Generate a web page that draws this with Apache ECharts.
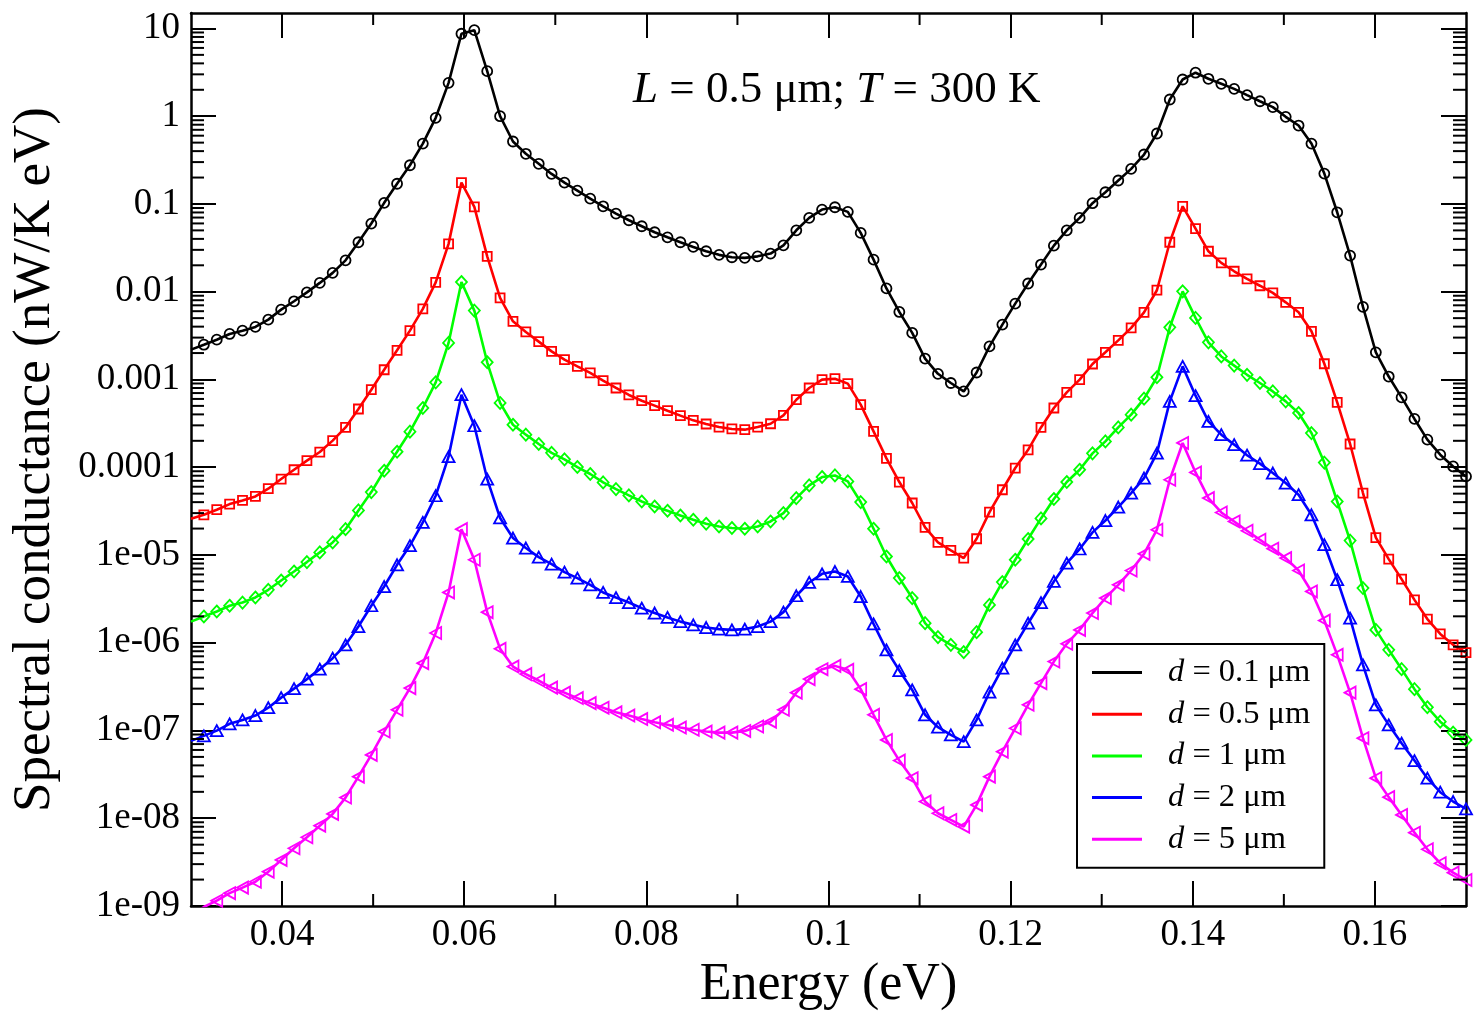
<!DOCTYPE html>
<html>
<head>
<meta charset="utf-8">
<script src="https://cdn.jsdelivr.net/npm/echarts@6/dist/echarts.min.js"></script>
<style>
html,body{margin:0;padding:0;background:#fff;}
#main{width:1484px;height:1017px;}
</style>
</head>
<body>
<div id="main"></div>
<script>
// ---------------- data ----------------
const energy = [0.03, 0.031414, 0.032828, 0.034242, 0.035657, 0.037071, 0.038485, 0.039899, 0.041313, 0.042727,
0.044141, 0.045556, 0.04697, 0.048384, 0.049798, 0.051212, 0.052626, 0.05404, 0.055455, 0.056869,
0.058283, 0.059697, 0.061111, 0.062525, 0.063939, 0.065354, 0.066768, 0.068182, 0.069596, 0.07101,
0.072424, 0.073838, 0.075253, 0.076667, 0.078081, 0.079495, 0.080909, 0.082323, 0.083737, 0.085152,
0.086566, 0.08798, 0.089394, 0.090808, 0.092222, 0.093636, 0.095051, 0.096465, 0.097879, 0.099293,
0.100707, 0.102121, 0.103535, 0.104949, 0.106364, 0.107778, 0.109192, 0.110606, 0.11202, 0.113434,
0.114848, 0.116263, 0.117677, 0.119091, 0.120505, 0.121919, 0.123333, 0.124747, 0.126162, 0.127576,
0.12899, 0.130404, 0.131818, 0.133232, 0.134646, 0.136061, 0.137475, 0.138889, 0.140303, 0.141717,
0.143131, 0.144545, 0.14596, 0.147374, 0.148788, 0.150202, 0.151616, 0.15303, 0.154444, 0.155859,
0.157273, 0.158687, 0.160101, 0.161515, 0.162929, 0.164343, 0.165758, 0.167172, 0.168586, 0.17];

const g_d01 = [2.19e-3, 2.49e-3, 2.84e-3, 3.30e-3, 3.60e-3, 3.97e-3, 4.81e-3, 6.25e-3, 7.78e-3, 9.84e-3,
1.26e-2, 1.64e-2, 2.28e-2, 3.66e-2, 5.98e-2, 0.103, 0.170, 0.276, 0.488, 0.959,
2.40, 8.70, 9.56, 3.26, 1.00, 0.515, 0.373, 0.287, 0.220, 0.175,
0.142, 0.115, 0.0941, 0.0777, 0.0652, 0.0557, 0.0476, 0.0417, 0.0366, 0.0324,
0.0289, 0.0263, 0.0247, 0.0243, 0.0253, 0.0272, 0.0338, 0.0501, 0.0694, 0.0863,
0.0917, 0.0813, 0.0468, 0.0232, 0.0109, 5.88e-3, 3.39e-3, 1.73e-3, 1.16e-3, 9.12e-4,
7.31e-4, 1.20e-3, 2.38e-3, 4.22e-3, 7.31e-3, 0.0124, 0.0204, 0.0335, 0.0501, 0.0694,
0.102, 0.136, 0.185, 0.251, 0.366, 0.635, 1.55, 2.62, 3.13, 2.67,
2.34, 2.05, 1.74, 1.48, 1.27, 0.984, 0.783, 0.488, 0.222, 0.0804,
0.0258, 6.71e-3, 2.04e-3, 1.08e-3, 6.25e-4, 3.55e-4, 2.06e-4, 1.39e-4, 1.02e-4, 7.85e-5];

const g_d05 = [2.59e-5, 2.87e-5, 3.28e-5, 3.80e-5, 4.18e-5, 4.65e-5, 5.69e-5, 7.33e-5, 9.36e-5, 1.19e-4,
1.49e-4, 2.01e-4, 2.84e-4, 4.61e-4, 7.65e-4, 1.29e-3, 2.15e-3, 3.60e-3, 6.37e-3, 0.0128,
0.0351, 0.175, 0.0927, 0.0253, 8.50e-3, 4.60e-3, 3.48e-3, 2.70e-3, 2.09e-3, 1.68e-3,
1.41e-3, 1.19e-3, 9.69e-4, 8.00e-4, 6.66e-4, 5.73e-4, 5.03e-4, 4.41e-4, 3.87e-4, 3.42e-4,
3.11e-4, 2.87e-4, 2.73e-4, 2.68e-4, 2.87e-4, 3.13e-4, 3.90e-4, 5.88e-4, 8.00e-4, 9.95e-4,
1.02e-3, 8.96e-4, 5.16e-4, 2.56e-4, 1.26e-4, 6.78e-5, 3.91e-5, 2.06e-5, 1.39e-5, 1.13e-5,
9.22e-6, 1.53e-5, 3.08e-5, 5.54e-5, 9.79e-5, 1.58e-4, 2.84e-4, 4.73e-4, 7.13e-4, 9.95e-4,
1.50e-3, 2.04e-3, 2.79e-3, 3.87e-3, 5.82e-3, 0.0104, 0.0366, 0.0941, 0.0524, 0.0289,
0.0213, 0.0171, 0.0140, 0.0117, 9.69e-3, 7.57e-3, 5.82e-3, 3.54e-3, 1.51e-3, 5.48e-4,
1.84e-4, 5.08e-5, 1.58e-5, 8.98e-6, 5.31e-6, 3.08e-6, 1.86e-6, 1.26e-6, 9.46e-7, 7.73e-7];

const g_d1 = [1.74e-6, 1.99e-6, 2.27e-6, 2.64e-6, 2.87e-6, 3.28e-6, 4.01e-6, 5.12e-6, 6.48e-6, 8.30e-6,
1.07e-5, 1.39e-5, 1.97e-5, 3.22e-5, 5.21e-5, 9.12e-5, 1.50e-4, 2.54e-4, 4.73e-4, 9.27e-4,
2.61e-3, 0.0129, 6.09e-3, 1.57e-3, 5.40e-4, 3.05e-4, 2.35e-4, 1.84e-4, 1.46e-4, 1.23e-4,
1.005e-4, 8.37e-5, 6.71e-5, 5.64e-5, 4.77e-5, 4.07e-5, 3.57e-5, 3.19e-5, 2.82e-5, 2.52e-5,
2.27e-5, 2.11e-5, 2.03e-5, 1.99e-5, 2.11e-5, 2.41e-5, 3.00e-5, 4.45e-5, 6.20e-5, 7.73e-5,
8.06e-5, 6.89e-5, 4.01e-5, 1.99e-5, 9.61e-6, 5.45e-6, 3.23e-6, 1.67e-6, 1.16e-6, 9.46e-7,
7.81e-7, 1.32e-6, 2.70e-6, 4.91e-6, 8.82e-6, 1.52e-5, 2.61e-5, 4.34e-5, 6.78e-5, 9.36e-5,
1.44e-4, 1.97e-4, 2.84e-4, 3.97e-4, 6.04e-4, 1.06e-3, 3.93e-3, 0.0101, 5.03e-3, 2.65e-3,
1.83e-3, 1.44e-3, 1.13e-3, 9.12e-4, 7.31e-4, 5.63e-4, 4.15e-4, 2.45e-4, 1.13e-4, 4.07e-5,
1.46e-5, 4.20e-6, 1.40e-6, 8.30e-7, 5.00e-7, 2.96e-7, 1.84e-7, 1.26e-7, 9.46e-8, 7.81e-8];

const g_d2 = [7.61e-8, 8.68e-8, 9.97e-8, 1.19e-7, 1.32e-7, 1.48e-7, 1.82e-7, 2.37e-7, 3.00e-7, 3.85e-7,
5.00e-7, 6.67e-7, 9.46e-7, 1.53e-6, 2.64e-6, 4.37e-6, 7.73e-6, 1.28e-5, 2.35e-5, 4.73e-5,
1.32e-4, 6.71e-4, 2.97e-4, 7.33e-5, 2.64e-5, 1.56e-5, 1.20e-5, 9.46e-6, 7.87e-6, 6.38e-6,
5.45e-6, 4.57e-6, 3.74e-6, 3.27e-6, 2.87e-6, 2.48e-6, 2.18e-6, 1.94e-6, 1.74e-6, 1.60e-6,
1.49e-6, 1.43e-6, 1.40e-6, 1.43e-6, 1.53e-6, 1.74e-6, 2.23e-6, 3.43e-6, 4.86e-6, 6.10e-6,
6.48e-6, 5.69e-6, 3.36e-6, 1.64e-6, 8.30e-7, 4.82e-7, 2.90e-7, 1.51e-7, 1.09e-7, 8.91e-8,
7.47e-8, 1.32e-7, 2.73e-7, 5.13e-7, 9.46e-7, 1.67e-6, 2.87e-6, 4.99e-6, 8.09e-6, 1.17e-5,
1.81e-5, 2.47e-5, 3.52e-5, 5.08e-5, 7.53e-5, 1.45e-4, 5.63e-4, 1.41e-3, 6.54e-4, 3.33e-4,
2.35e-4, 1.81e-4, 1.37e-4, 1.10e-4, 8.59e-5, 6.60e-5, 4.86e-5, 2.87e-5, 1.31e-5, 5.22e-6,
1.91e-6, 5.60e-7, 1.96e-7, 1.16e-7, 7.17e-8, 4.54e-8, 2.86e-8, 1.98e-8, 1.55e-8, 1.28e-8];

const g_d5 = [7.89e-10, 9.74e-10, 1.15e-9, 1.40e-9, 1.62e-9, 1.89e-9, 2.46e-9, 3.35e-9, 4.55e-9, 6.07e-9,
8.23e-9, 1.12e-8, 1.72e-8, 2.98e-8, 5.27e-8, 9.72e-8, 1.72e-7, 3.04e-7, 5.85e-7, 1.29e-6,
3.74e-6, 1.97e-5, 8.82e-6, 2.23e-6, 8.52e-7, 5.35e-7, 4.39e-7, 3.71e-7, 3.08e-7, 2.70e-7,
2.34e-7, 2.05e-7, 1.82e-7, 1.61e-7, 1.48e-7, 1.35e-7, 1.24e-7, 1.16e-7, 1.08e-7, 1.02e-7,
9.72e-8, 9.46e-8, 9.46e-8, 9.89e-8, 1.11e-7, 1.26e-7, 1.72e-7, 2.70e-7, 3.85e-7, 5.00e-7,
5.45e-7, 4.91e-7, 2.96e-7, 1.51e-7, 7.81e-8, 4.54e-8, 2.86e-8, 1.55e-8, 1.14e-8, 9.56e-9,
8.02e-9, 1.42e-8, 2.98e-8, 5.74e-8, 1.06e-7, 1.96e-7, 3.46e-7, 6.10e-7, 9.72e-7, 1.40e-6,
2.18e-6, 3.23e-6, 4.57e-6, 6.66e-6, 1.03e-5, 1.94e-5, 7.20e-5, 1.89e-4, 8.72e-5, 4.45e-5,
3.05e-5, 2.41e-5, 1.89e-5, 1.49e-5, 1.18e-5, 9.22e-6, 6.66e-6, 3.84e-6, 1.79e-6, 7.28e-7,
2.70e-7, 8.17e-8, 2.86e-8, 1.74e-8, 1.09e-8, 6.85e-9, 4.43e-9, 3.07e-9, 2.40e-9, 1.98e-9];

const thicknessLabels = ['0.1', '0.5', '1', '2', '5'];
const seriesValues = [g_d01, g_d05, g_d1, g_d2, g_d5];
const seriesColors = ['#000000', '#ff0000', '#00ff00', '#0000ff', '#ff00ff'];

const xTickValues = [0.04, 0.06, 0.08, 0.10, 0.12, 0.14, 0.16];
const xTickLabels = ['0.04', '0.06', '0.08', '0.1', '0.12', '0.14', '0.16'];
const xMinorValues = [0.05, 0.07, 0.09, 0.11, 0.13, 0.15];
const yTickValues = [1e-9, 1e-8, 1e-7, 1e-6, 1e-5, 1e-4, 1e-3, 1e-2, 1e-1, 1, 10];
const yTickLabels = ['1e-09', '1e-08', '1e-07', '1e-06', '1e-05', '0.0001', '0.001', '0.01', '0.1', '1', '10'];

// ---------------- chart ----------------
const FONT = "'Liberation Serif', 'Times New Roman', serif";
const X_MIN = 0.03, X_MAX = 0.17, Y_MIN = 1e-9, Y_MAX = 15;

const yMinorValues = [];
for (let e = -9; e <= 1; e++) {
  for (let m = 2; m <= 9; m++) {
    const v = m * Math.pow(10, e);
    if (v < Y_MAX) yMinorValues.push(v);
  }
}

function xLabel(v) {
  for (let i = 0; i < xTickValues.length; i++) if (Math.abs(v - xTickValues[i]) < 1e-9) return xTickLabels[i];
  return '';
}
function yLabel(v) {
  const e = Math.round(Math.log10(v));
  const idx = e + 9;
  if (Math.abs(Math.log10(v) - e) > 1e-6) return '';
  return yTickLabels[idx] !== undefined ? yTickLabels[idx] : '';
}

const symbols = ['circle', 'rect', 'diamond', 'triangle', 'triangle'];
const symbolSizes = [10, 9, [11, 12], [12, 11], [12, 11]];
const symbolRotates = [0, 0, 0, 0, 90];
const seriesNames = thicknessLabels.map(t => 'd = ' + t + ' μm');

const lineSeries = seriesValues.map((vals, s) => ({
  name: seriesNames[s],
  type: 'line',
  xAxisIndex: 0,
  yAxisIndex: 0,
  data: energy.map((e, i) => [e, vals[i]]),
  symbol: symbols[s],
  symbolSize: (val, p) => p.dataIndex === 0 ? 0 : symbolSizes[s],
  symbolRotate: symbolRotates[s],
  showSymbol: true,
  showAllSymbol: true,
  smooth: false,
  clip: true,
  z: 3 + s,
  lineStyle: { color: seriesColors[s], width: 2.6 },
  itemStyle: { color: 'rgba(0,0,0,0)', borderColor: seriesColors[s], borderWidth: 1.8 },
  emphasis: { disabled: true }
}));

const tickStyle = { stroke: '#000', lineWidth: 2 };
const minorYSeries = {
  type: 'custom', name: 'yminor', silent: true, clip: false, z: 10,
  xAxisIndex: 0, yAxisIndex: 0,
  data: yMinorValues.map(v => [X_MIN, v]),
  renderItem: (params, api) => {
    const cs = params.coordSys;
    const y = api.coord([X_MIN, api.value(1)])[1];
    return { type: 'group', children: [
      { type: 'line', shape: { x1: cs.x, y1: y, x2: cs.x + 13, y2: y }, style: tickStyle },
      { type: 'line', shape: { x1: cs.x + cs.width, y1: y, x2: cs.x + cs.width - 13, y2: y }, style: tickStyle }
    ]};
  }
};
const minorXSeries = {
  type: 'custom', name: 'xminor', silent: true, clip: false, z: 10,
  xAxisIndex: 0, yAxisIndex: 0,
  data: xMinorValues.map(v => [v, 1]),
  renderItem: (params, api) => {
    const cs = params.coordSys;
    const x = api.coord([api.value(0), 1])[0];
    return { type: 'group', children: [
      { type: 'line', shape: { x1: x, y1: cs.y + cs.height, x2: x, y2: cs.y + cs.height - 12 }, style: tickStyle },
      { type: 'line', shape: { x1: x, y1: cs.y, x2: x, y2: cs.y + 12 }, style: tickStyle }
    ]};
  }
};

const axisLine = { show: true, onZero: false, lineStyle: { color: '#000', width: 2.5 } };
const majorTickX = { show: true, inside: true, length: 25, customValues: xTickValues, lineStyle: { color: '#000', width: 2 } };
const majorTickY = { show: true, inside: true, length: 25, customValues: yTickValues, lineStyle: { color: '#000', width: 2 } };

const option = {
  animation: false,
  backgroundColor: '#fff',
  grid: { left: 191, right: 18, top: 13, bottom: 111, containLabel: false },
  xAxis: [
    {
      type: 'value', position: 'bottom', min: X_MIN, max: X_MAX,
      axisLine: axisLine, axisTick: majorTickX,
      axisLabel: { customValues: xTickValues, formatter: xLabel, margin: 11, fontFamily: FONT, fontSize: 37, color: '#000' },
      splitLine: { show: false },
      name: 'Energy (eV)', nameLocation: 'middle', nameGap: 45,
      nameTextStyle: { fontFamily: FONT, fontSize: 52, color: '#000' }
    },
    {
      type: 'value', position: 'top', min: X_MIN, max: X_MAX,
      axisLine: axisLine, axisTick: majorTickX,
      axisLabel: { show: false }, splitLine: { show: false }
    }
  ],
  yAxis: [
    {
      type: 'log', logBase: 10, position: 'left', min: Y_MIN, max: Y_MAX,
      axisLine: axisLine, axisTick: majorTickY,
      axisLabel: { customValues: yTickValues, formatter: yLabel, margin: 11, fontFamily: FONT, fontSize: 37, color: '#000' },
      splitLine: { show: false }, minorTick: { show: false },
      name: 'Spectral conductance (nW/K eV)', nameLocation: 'middle', nameGap: 129, nameRotate: 90,
      nameTextStyle: { fontFamily: FONT, fontSize: 53, color: '#000' }
    },
    {
      type: 'log', logBase: 10, position: 'right', min: Y_MIN, max: Y_MAX,
      axisLine: axisLine, axisTick: majorTickY,
      axisLabel: { show: false }, splitLine: { show: false }, minorTick: { show: false }
    }
  ],
  legend: {
    show: true, orient: 'vertical', left: 1077, top: 644,
    padding: [12, 14, 12, 15], itemGap: 8.7, itemWidth: 50, itemHeight: 3,
    icon: 'rect', borderColor: '#000', borderWidth: 2, backgroundColor: '#fff',
    selectedMode: false,
    data: seriesNames.map((n, s) => ({ name: n, itemStyle: { color: seriesColors[s], borderWidth: 0 } })),
    formatter: n => '{i|d}{t|' + n.slice(1) + '}',
    textStyle: {
      fontFamily: FONT, fontSize: 32.5, color: '#000',
      rich: {
        i: { fontFamily: FONT, fontSize: 32.5, fontStyle: 'italic', color: '#000', padding: [0, 0, 0, 21], lineHeight: 30 },
        t: { fontFamily: FONT, fontSize: 32.5, color: '#000', lineHeight: 30 }
      }
    }
  },
  graphic: [
    {
      type: 'text', x: 633, y: 90, z: 20,
      style: {
        text: '{i|L}{t| = 0.5 μm; }{i|T}{t| = 300 K}',
        verticalAlign: 'middle', align: 'left',
        rich: {
          i: { fontFamily: FONT, fontSize: 45, fontStyle: 'italic', fill: '#000' },
          t: { fontFamily: FONT, fontSize: 45, fill: '#000' }
        }
      }
    }
  ],
  series: lineSeries.concat([minorYSeries, minorXSeries])
};

const chart = echarts.init(document.getElementById('main'), null, { renderer: 'canvas' });
chart.setOption(option);
</script>
</body>
</html>
